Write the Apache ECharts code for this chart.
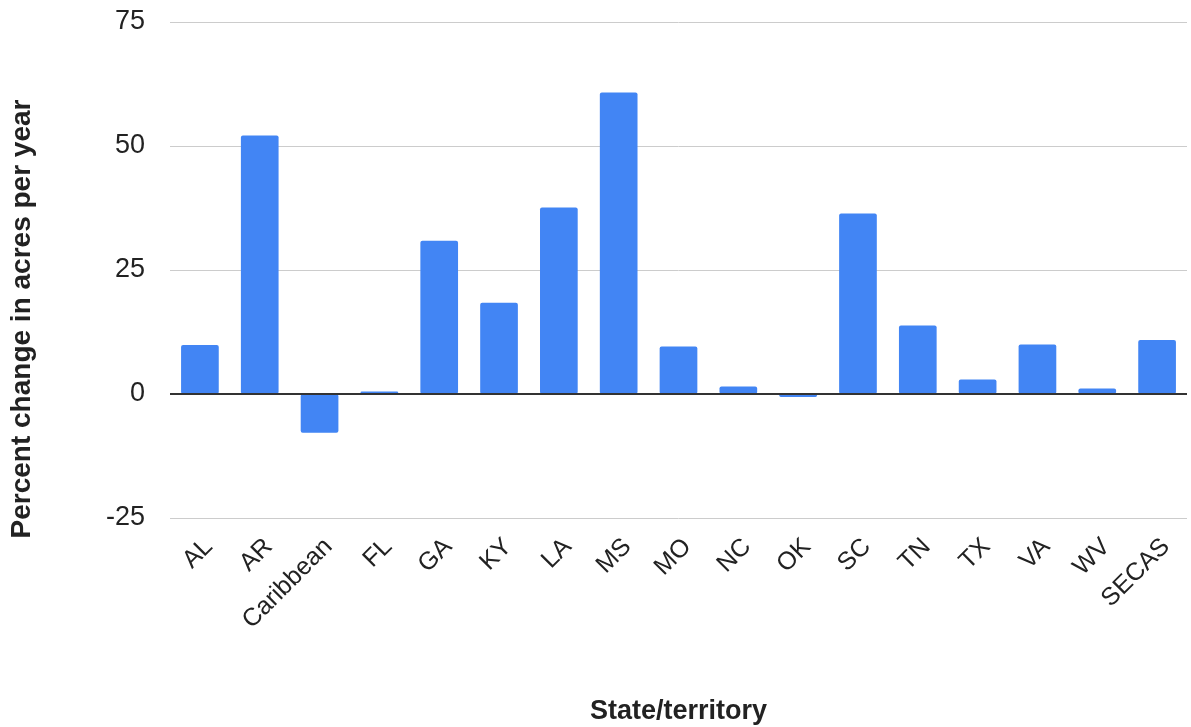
<!DOCTYPE html>
<html>
<head>
<meta charset="utf-8">
<script src="https://cdn.jsdelivr.net/npm/echarts@6/dist/echarts.min.js"></script>
<style>html,body{margin:0;padding:0;background:#fff;}#c{width:1191px;height:727px;}</style>
</head>
<body>
<div id="c"></div>
<script>
const categories = ["AL","AR","Caribbean","FL","GA","KY","LA","MS","MO","NC","OK","SC","TN","TX","VA","WV","SECAS"];
const values = [9.9, 52.1, -7.8, 0.5, 30.9, 18.4, 37.6, 60.8, 9.6, 1.5, -0.6, 36.4, 13.8, 2.9, 10.0, 1.1, 10.9];
const yTicks = [-25, 0, 25, 50, 75];
const xTitle = "State/territory";
const yTitle = "Percent change in acres per year";

const FONT = 'Liberation Sans, Arial, sans-serif';
const chart = echarts.init(document.getElementById('c'));
chart.setOption({
  animation: false,
  grid: {left: 170, right: 4, top: 22, bottom: 209, containLabel: false, outerBoundsMode: 'none'},
  xAxis: {
    type: 'category',
    data: categories,
    axisLine: {show: false, onZero: false},
    axisTick: {show: false},
    axisLabel: {rotate: 45, fontSize: 25, color: '#222', fontFamily: FONT, margin: 16, interval: 0, verticalAlign: 'top'},
    name: xTitle,
    nameLocation: 'middle',
    nameGap: 180,
    nameTextStyle: {fontSize: 27, fontWeight: 'bold', color: '#222', fontFamily: FONT}
  },
  yAxis: {
    type: 'value',
    min: yTicks[0], max: yTicks[yTicks.length-1], interval: 25,
    axisLine: {show: false},
    axisTick: {show: false},
    splitLine: {lineStyle: {color: '#cccccc', width: 1}},
    axisLabel: {fontSize: 27, color: '#222', fontFamily: FONT, margin: 25}
  },
  graphic: [{
    type: 'text',
    x: 22, y: 319,
    rotation: Math.PI/2,
    style: {text: yTitle, fill: '#222', font: 'bold 28px ' + FONT, align: 'center', verticalAlign: 'middle'}
  }],
  series: [{
    type: 'bar',
    data: values,
    barWidth: '63%',
    itemStyle: {color: '#4285F4', borderRadius: 2},
    markLine: {
      silent: true, symbol: 'none', label: {show: false},
      lineStyle: {color: '#333', width: 2, type: 'solid'},
      data: [{yAxis: 0}]
    }
  }]
});
</script>
</body>
</html>
